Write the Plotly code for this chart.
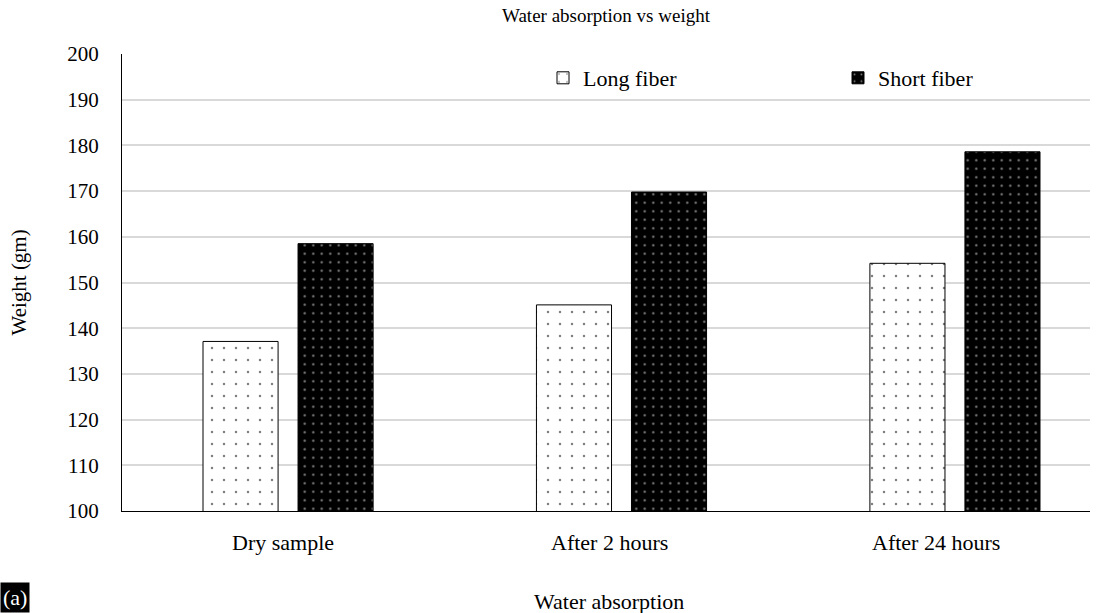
import plotly.graph_objects as go

categories = ["Dry sample", "After 2 hours", "After 24 hours"]
long_fiber = [137.1, 145.1, 154.2]
short_fiber = [158.5, 169.8, 178.6]
y_ticks = [100, 110, 120, 130, 140, 150, 160, 170, 180, 190, 200]

FONT = "Liberation Serif, Times New Roman, serif"
W, H = 1112, 613
L, R, T, B = 122, 22, 54, 102
PW, PH = W - L - R, H - T - B

fig = go.Figure()
fig.add_trace(go.Bar(
    name="Long fiber", x=categories, y=long_fiber, legend="legend",
    marker=dict(color="white", line=dict(color="black", width=1),
                pattern=dict(shape=".", fgcolor="black", bgcolor="white",
                             size=12, solidity=0.035)),
))
fig.add_trace(go.Bar(
    name="Short fiber", x=categories, y=short_fiber, legend="legend2",
    marker=dict(color="black", line=dict(color="black", width=1),
                pattern=dict(shape=".", fgcolor="white", bgcolor="black",
                             size=8.5, solidity=0.06)),
))

leg_common = dict(yanchor="middle", xanchor="left", y=1 - (78 - T) / PH,
                  font=dict(size=22, family=FONT), bgcolor="rgba(0,0,0,0)",
                  itemwidth=30, tracegroupgap=0)

fig.update_layout(
    width=W, height=H,
    margin=dict(l=L, r=R, t=T, b=B),
    paper_bgcolor="white", plot_bgcolor="white",
    font=dict(family=FONT, color="black", size=21),
    barmode="group", bargap=0.43, bargroupgap=0.21,
    title=dict(text="Water absorption vs weight", x=0.5, xref="paper", xanchor="center",
               y=1 - 15 / H, yanchor="middle", font=dict(size=19, family=FONT)),
    showlegend=True,
    legend=dict(x=(543 - L) / PW, **leg_common),
    legend2=dict(x=(838 - L) / PW, **leg_common),
    xaxis=dict(showline=True, linecolor="black", linewidth=1, showgrid=False,
               range=[-0.498, 2.405], showticklabels=False, ticks=""),
    yaxis=dict(range=[100, 200], tickvals=y_ticks, showline=True, linecolor="black",
               linewidth=1, showgrid=True, gridcolor="#d9d9d9", gridwidth=1.5,
               ticks="", tickfont=dict(size=21), zeroline=False, ticklabelstandoff=18),
)

# category labels centred in equal category slots of the plotting area
n = len(categories)
for i, cat in enumerate(categories):
    fig.add_annotation(text=cat, xref="paper", yref="paper", x=(i + 0.5) / n + 0.004 * i,
                       y=-(542 - (T + PH)) / PH, showarrow=False,
                       xanchor="center", yanchor="middle", font=dict(size=22, family=FONT))

fig.add_annotation(text="Weight (gm)", xref="paper", yref="paper", x=(18 - L) / PW, y=0.5,
                   textangle=-90, showarrow=False, xanchor="center", yanchor="middle",
                   font=dict(size=21, family=FONT))
fig.add_annotation(text="Water absorption", xref="paper", yref="paper",
                   x=(609 - L) / PW, y=-(601 - (T + PH)) / PH,
                   showarrow=False, xanchor="center", yanchor="middle",
                   font=dict(size=22, family=FONT))
fig.add_annotation(text="(a)", xref="paper", yref="paper", x=-L / PW, y=-B / PH,
                   xanchor="left", yanchor="bottom", showarrow=False,
                   font=dict(size=22, color="white", family=FONT), bgcolor="black",
                   borderpad=2)

fig.write_html("out.html", config={"displayModeBar": False},
               post_script="document.body.style.margin='0';")
